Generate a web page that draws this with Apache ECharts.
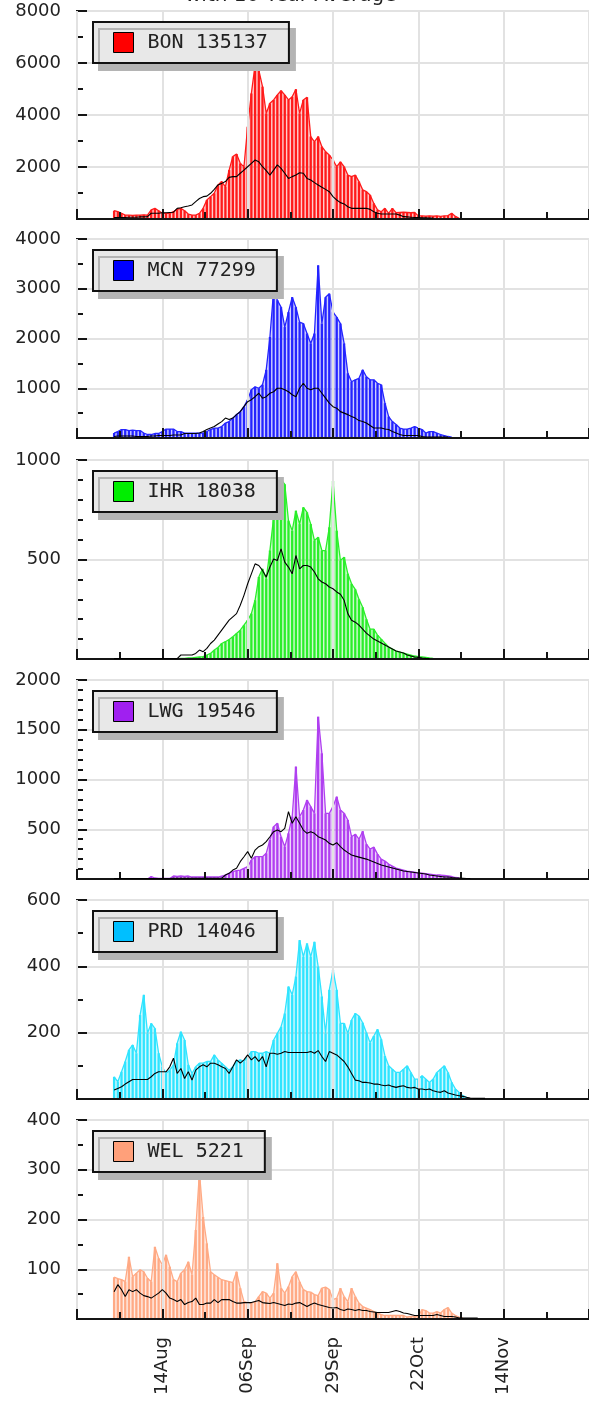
<!DOCTYPE html>
<html>
<head>
<meta charset="utf-8">
<script src="https://cdn.jsdelivr.net/npm/echarts@6/dist/echarts.min.js"></script>
<style>
  html, body { margin: 0; padding: 0; background: #fff; }
  #chart { width: 589px; height: 1406px; }
</style>
</head>
<body>
<div id="chart"></div>
<script>
// x axis is in days, day 0 = 22 Jul; every series starts on day 10 (1 Aug)
const firstDay = 10;
const tickLabels = ['', '14Aug', '06Sep', '29Sep', '22Oct', '14Nov', '07Dec'];
const siteNames = ['BON 135137', 'MCN 77299', 'IHR 18038', 'LWG 19546', 'PRD 14046', 'WEL 5221'];

const bonCount = [320, 280, 220, 150, 150, 140, 150, 150, 160, 150, 350, 410, 320, 220, 220, 220, 280, 370, 410, 320,
  190, 150, 150, 220, 410, 730, 860, 990, 1310, 1440, 1240, 1880, 2400, 2500, 2140, 2010, 3550, 4830, 5920, 5730,
  5090, 4060, 4450, 4580, 4770, 4940, 4770, 4580, 4700, 4990, 4060, 4580, 4680, 3170, 2970, 3170, 2780, 2590, 2460, 2270,
  2010, 2200, 2010, 1690, 1630, 1690, 1440, 1120, 1050, 920, 600, 350, 280, 410, 220, 410, 240, 250, 260, 250,
  240, 250, 120, 120, 110, 120, 110, 120, 100, 120, 130, 220, 100, 30];
const bonAvg = [60, 60, 60, 60, 70, 70, 70, 80, 80, 90, 220, 220, 220, 240, 240, 250, 260, 410, 430, 470,
  500, 540, 670, 790, 860, 880, 990, 1140, 1310, 1370, 1440, 1600, 1630, 1630, 1760, 1880, 2010, 2140, 2270, 2200,
  2010, 1860, 1690, 1880, 2080, 1950, 1760, 1560, 1630, 1690, 1780, 1760, 1560, 1500, 1400, 1310, 1220, 1140, 1050, 860,
  730, 630, 580, 470, 410, 410, 410, 410, 410, 370, 280, 220, 190, 190, 190, 190, 190, 150, 90, 80,
  70, 60, 60, 50, 50, 40, 40];

const mcnCount = [100, 130, 170, 170, 150, 160, 150, 150, 100, 70, 70, 90, 90, 130, 180, 180, 180, 130, 130, 100,
  100, 100, 100, 100, 100, 130, 170, 200, 200, 230, 300, 330, 400, 470, 530, 630, 770, 970, 1030, 1000,
  1070, 1370, 2030, 2970, 2770, 2630, 2230, 2530, 2830, 2630, 2330, 2300, 2100, 1900, 2100, 3470, 2300, 2830, 2900, 2530,
  2430, 2300, 1900, 1300, 1130, 1170, 1200, 1370, 1230, 1170, 1170, 1100, 1070, 700, 430, 330, 270, 200, 180, 180,
  200, 230, 200, 170, 100, 130, 130, 100, 70, 50, 30, 15];
const mcnAvg = [30, 40, 40, 40, 40, 40, 30, 30, 30, 30, 40, 40, 50, 50, 50, 50, 60, 60, 60, 90,
  90, 90, 90, 100, 130, 170, 200, 230, 280, 330, 400, 370, 400, 470, 530, 630, 730, 770, 830, 900,
  800, 830, 900, 930, 1000, 1000, 970, 930, 870, 830, 1000, 1100, 1000, 970, 1000, 1000, 900, 800, 700, 630,
  600, 530, 500, 470, 430, 400, 350, 330, 300, 250, 200, 200, 200, 180, 170, 130, 100, 70, 50, 50,
  50, 50, 50, 30, 20, 20, 20, 20, 20, 20, 20];

const ihrCount = [0, 0, 0, 0, 0, 0, 0, 0, 0, 0, 0, 0, 0, 0, 0, 0, 0, 0, 3, 3,
  5, 5, 8, 10, 12, 20, 28, 45, 58, 78, 87, 98, 112, 128, 145, 170, 195, 228, 295, 412,
  453, 403, 545, 712, 812, 903, 878, 695, 645, 745, 678, 762, 737, 678, 595, 612, 545, 545, 662, 895,
  645, 495, 512, 428, 378, 350, 300, 260, 200, 150, 150, 120, 100, 80, 60, 50, 40, 35, 30, 25,
  20, 15, 12, 10, 8, 5, 3, 2];
const ihrAvg = [2, 2, 2, 2, 2, 2, 2, 2, 2, 2, 2, 2, 2, 2, 2, 2, 2, 2, 20, 20,
  20, 20, 28, 45, 37, 53, 78, 95, 120, 145, 170, 195, 212, 228, 270, 320, 378, 428, 478, 470,
  445, 412, 462, 503, 495, 553, 487, 462, 428, 520, 453, 470, 470, 462, 437, 403, 387, 378, 362, 353,
  337, 325, 295, 228, 195, 185, 170, 150, 130, 115, 100, 90, 80, 70, 60, 50, 40, 35, 30, 20,
  15, 10, 8, 5, 3, 2];

const lwgCount = [0, 0, 0, 0, 0, 0, 0, 0, 0, 0, 25, 10, 5, 5, 5, 5, 30, 25, 30, 25,
  30, 20, 20, 20, 20, 20, 20, 20, 20, 30, 40, 57, 74, 84, 90, 107, 124, 190, 224, 224,
  224, 258, 392, 526, 560, 425, 325, 459, 626, 1129, 626, 693, 794, 727, 660, 1631, 1263, 660, 660, 727,
  827, 693, 660, 593, 425, 450, 400, 480, 350, 300, 320, 250, 200, 180, 150, 130, 110, 100, 90, 80,
  75, 70, 60, 60, 55, 50, 45, 40, 40, 35, 30, 25, 15, 10];
const lwgAvg = [5, 5, 5, 5, 5, 5, 5, 5, 5, 5, 5, 5, 5, 5, 5, 5, 7, 7, 7, 7,
  7, 7, 7, 7, 7, 7, 7, 7, 7, 7, 40, 57, 90, 107, 174, 224, 275, 208, 291, 325,
  342, 375, 425, 476, 492, 476, 509, 677, 560, 626, 560, 492, 459, 476, 459, 425, 409, 392, 358, 342,
  365, 325, 291, 265, 241, 230, 220, 210, 200, 185, 170, 155, 140, 130, 120, 110, 100, 90, 80, 75,
  70, 65, 60, 55, 50, 40, 35, 30, 25, 20, 20, 15, 12, 10, 8, 5, 5];

const prdCount = [67, 52, 82, 113, 148, 163, 138, 253, 314, 198, 228, 213, 138, 97, 77, 87, 103, 168, 203, 178,
  103, 77, 97, 108, 108, 113, 113, 133, 118, 108, 97, 87, 97, 113, 118, 113, 128, 143, 143, 138,
  138, 143, 138, 178, 198, 218, 258, 339, 314, 369, 479, 429, 469, 429, 474, 399, 309, 198, 329, 389,
  329, 228, 228, 198, 238, 258, 250, 230, 200, 170, 190, 210, 180, 130, 100, 90, 80, 80, 90, 100,
  80, 60, 60, 70, 60, 50, 60, 80, 90, 100, 80, 50, 30, 20, 10, 5];
const prdAvg = [27, 32, 37, 45, 52, 59, 59, 59, 59, 59, 67, 77, 82, 82, 82, 97, 123, 77, 92, 62,
  82, 57, 87, 97, 103, 97, 108, 108, 103, 97, 92, 77, 97, 118, 108, 118, 133, 118, 128, 113,
  128, 97, 138, 138, 135, 138, 143, 140, 140, 140, 140, 140, 140, 143, 138, 146, 128, 113, 143, 138,
  133, 123, 113, 97, 77, 57, 55, 50, 50, 48, 45, 45, 42, 40, 42, 38, 35, 38, 40, 35,
  33, 35, 30, 30, 28, 30, 25, 22, 20, 25, 18, 15, 12, 10, 8, 5, 3, 2, 2, 2, 2];

const welCount = [84, 81, 79, 75, 125, 85, 92, 99, 95, 82, 75, 145, 122, 109, 129, 105, 79, 75, 92, 99,
  115, 89, 179, 295, 205, 152, 95, 89, 84, 79, 77, 75, 73, 95, 62, 35, 33, 32, 35, 45,
  55, 52, 42, 52, 112, 62, 52, 65, 85, 95, 75, 59, 55, 54, 49, 47, 62, 64, 59, 39,
  42, 62, 45, 35, 62, 45, 32, 25, 22, 19, 15, 12, 9, 7, 7, 7, 7, 7, 7, 4,
  5, 5, 5, 19, 17, 12, 12, 15, 12, 19, 23, 12, 7, 4, 2];
const welAvg = [55, 69, 59, 45, 59, 55, 59, 52, 47, 45, 42, 47, 52, 59, 52, 42, 39, 35, 39, 29,
  33, 35, 42, 29, 29, 32, 32, 39, 33, 39, 39, 39, 35, 32, 32, 33, 33, 33, 35, 37,
  33, 32, 31, 33, 31, 29, 27, 30, 29, 32, 33, 29, 25, 29, 32, 29, 27, 25, 23, 22,
  23, 19, 17, 20, 19, 17, 19, 17, 17, 15, 14, 13, 13, 13, 13, 15, 17, 15, 12, 11,
  9, 7, 7, 7, 7, 7, 7, 9, 7, 5, 5, 5, 4, 2, 2, 2, 2, 2, 2];

const counts = [bonCount, mcnCount, ihrCount, lwgCount, prdCount, welCount];
const averages = [bonAvg, mcnAvg, ihrAvg, lwgAvg, prdAvg, welAvg];

// layout / style per panel
const panels = [
  { top: 11, height: 208, max: 8000, step: 2000, minor: 2, bar: '#ff1a1a', key: '#ff0000' },
  { top: 239, height: 199, max: 4000, step: 1000, minor: 2, bar: '#2424ff', key: '#0000ff' },
  { top: 460, height: 199, max: 1000, step: 500, minor: 5, bar: '#2bee2b', key: '#00ee00' },
  { top: 680, height: 199, max: 2000, step: 500, minor: 5, bar: '#b040f0', key: '#a020f0' },
  { top: 900, height: 199, max: 600, step: 200, minor: 2, bar: '#30e4ff', key: '#00bfff' },
  { top: 1120, height: 199, max: 400, step: 100, minor: 2, bar: '#ffaa85', key: '#ffa07a' }
];

const toPairs = arr => arr.map((v, i) => [firstDay + i, v]);

const labelFont = { fontFamily: 'DejaVu Sans', fontSize: 18, color: '#222' };
const lineDark = { color: '#151515', width: 2 };

const grid = [], xAxis = [], yAxis = [], series = [], legend = [];

panels.forEach((p, i) => {
  grid.push({
    left: 77, top: p.top, width: 514, height: p.height,
    show: true, borderColor: '#222', borderWidth: 2, backgroundColor: '#fff'
  });
  xAxis.push({
    type: 'value', gridIndex: i, min: 0, max: 138, interval: 23, z: 3,
    axisLine: { lineStyle: lineDark },
    axisTick: { inside: true, length: 10, lineStyle: lineDark },
    minorTick: { show: true, splitNumber: 2, length: 7, lineStyle: lineDark },
    splitLine: { show: true, lineStyle: { color: '#e2e2e2', width: 2 } },
    axisLabel: i === panels.length - 1 ? Object.assign({
      rotate: 90, margin: 18, showMaxLabel: false,
      formatter: v => tickLabels[Math.round(v / 23)] || ''
    }, labelFont) : { show: false }
  });
  yAxis.push({
    type: 'value', gridIndex: i, min: 0, max: p.max, interval: p.step,
    axisLine: { lineStyle: lineDark },
    axisTick: { inside: true, length: 10, lineStyle: lineDark },
    minorTick: { show: true, splitNumber: p.minor, length: 6, lineStyle: lineDark },
    splitLine: { show: true, lineStyle: { color: '#e2e2e2', width: 2 } },
    axisLabel: Object.assign({ margin: 16, showMinLabel: false, formatter: v => String(v) }, labelFont)
  });
  const data = toPairs(counts[i]);
  series.push({
    name: siteNames[i], type: 'bar', xAxisIndex: i, yAxisIndex: i,
    data: data, barWidth: 2.3, itemStyle: { color: p.bar }, z: 2
  });
  series.push({
    name: siteNames[i] + ' top', type: 'line', xAxisIndex: i, yAxisIndex: i,
    data: data, symbol: 'none', z: 2,
    lineStyle: { color: p.bar, width: 1.3 },
    areaStyle: { color: p.bar, opacity: 0.22 }
  });
  series.push({
    name: '10 year avg ' + i, type: 'line', xAxisIndex: i, yAxisIndex: i,
    data: toPairs(averages[i]), symbol: 'none', z: 4,
    lineStyle: { color: '#000', width: 1.1 }
  });
  legend.push({
    data: [{ name: siteNames[i], icon: 'rect', itemStyle: { color: p.key, borderColor: '#000', borderWidth: 1 } }],
    left: 93, top: p.top + 11,
    itemWidth: 20, itemHeight: 20,
    padding: [10, 21, 10, 20],
    backgroundColor: '#e8e8e8', borderColor: '#111', borderWidth: 2,
    shadowColor: '#b4b4b4', shadowBlur: 0, shadowOffsetX: 6, shadowOffsetY: 7,
    selectedMode: false,
    textStyle: { fontFamily: 'DejaVu Sans Mono', fontSize: 20, color: '#222', padding: [0, 0, 0, 9] }
  });
});

const chart = echarts.init(document.getElementById('chart'));
chart.setOption({
  animation: false,
  backgroundColor: '#fff',
  title: {
    text: 'with 10 Year Average', left: 180, top: -19,
    textStyle: { fontFamily: 'DejaVu Sans', fontSize: 20, fontWeight: 'normal', color: '#222' }
  },
  grid, xAxis, yAxis, legend, series
});
</script>
</body>
</html>
